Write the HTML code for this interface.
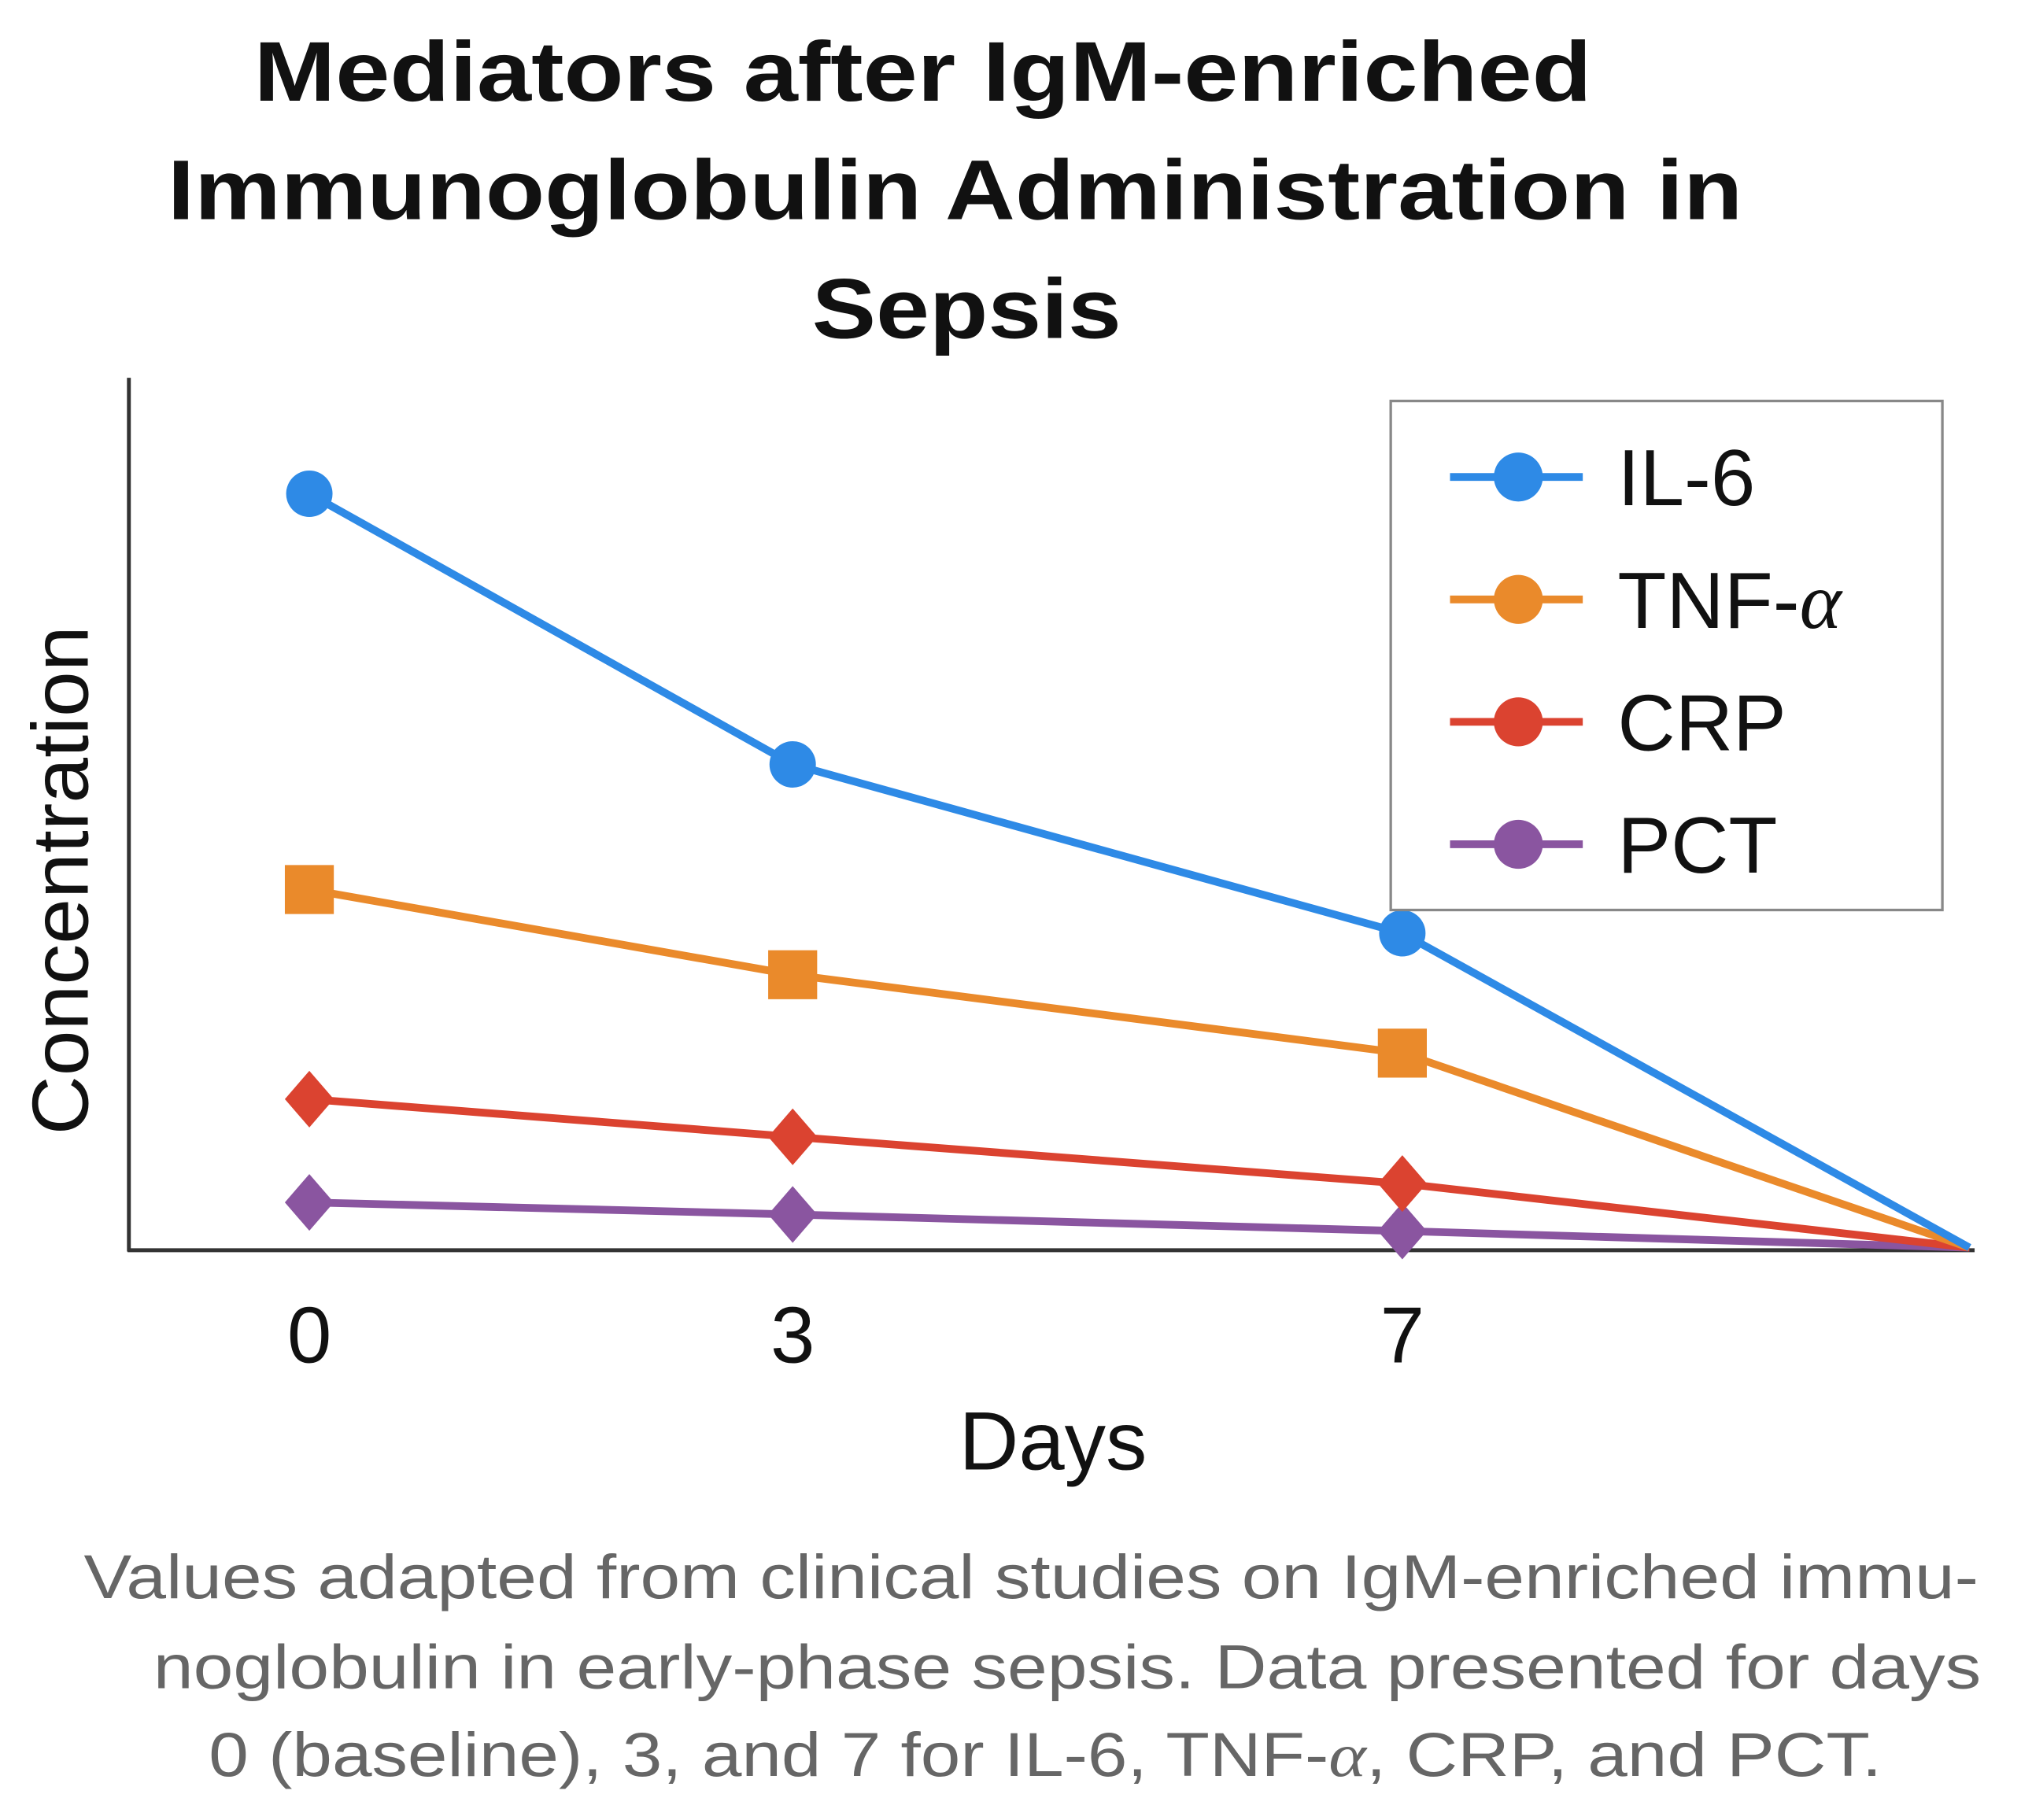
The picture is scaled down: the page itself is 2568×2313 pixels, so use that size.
<!DOCTYPE html>
<html><head><meta charset="utf-8"><style>html,body{margin:0;padding:0;background:#fff}svg{display:block}</style></head>
<body>
<svg id="chart" width="2568" height="2313" viewBox="0 0 1568 1412" xmlns="http://www.w3.org/2000/svg" font-family="Liberation Sans, sans-serif">
<rect width="1568" height="1412" fill="#fff"/>
<g font-weight="bold" font-size="66" text-anchor="middle" fill="#111">
<text x="716" y="78" textLength="1038" lengthAdjust="spacingAndGlyphs">Mediators after IgM-enriched</text>
<text x="741" y="170" textLength="1222" lengthAdjust="spacingAndGlyphs">Immunoglobulin Administration in</text>
<text x="750" y="262" textLength="240" lengthAdjust="spacingAndGlyphs">Sepsis</text>
</g>
<line x1="100" y1="293" x2="100" y2="971" stroke="#333" stroke-width="3"/>
<line x1="99" y1="970" x2="1532" y2="970" stroke="#333" stroke-width="3"/>
<text transform="translate(68,683) rotate(-90)" text-anchor="middle" font-size="62" fill="#111" textLength="395" lengthAdjust="spacingAndGlyphs">Concentration</text>
<text x="817" y="1140" text-anchor="middle" font-size="64" fill="#111">Days</text>
<g id="ticks" font-size="62" text-anchor="middle" fill="#111"></g>
<g id="series"></g>
<g>
<rect x="1079" y="311" width="428" height="395" fill="#fff" stroke="#888" stroke-width="2"/>
<g id="legend-items" font-size="62" fill="#111"></g>
</g>
<g font-size="48" fill="#666" text-anchor="middle">
<text x="800" y="1240" textLength="1470" lengthAdjust="spacingAndGlyphs">Values adapted from clinical studies on IgM-enriched immu-</text>
<text x="828" y="1310" textLength="1418" lengthAdjust="spacingAndGlyphs">noglobulin in early-phase sepsis. Data presented for days</text>
<text x="811" y="1378" textLength="1298" lengthAdjust="spacingAndGlyphs">0 (baseline), 3, and 7 for IL-6, TNF-<tspan font-family="Liberation Serif, serif" font-style="italic">α</tspan>, CRP, and PCT.</text>
</g>
</svg>
<script>
const days = [0, 3, 7, 10.6];
const tickDays = [0, 3, 7];
const tickLabels = ["0", "3", "7"];
const seriesNames = ["IL-6", "TNF-α", "CRP", "PCT"];
const il6 = [100, 64.1, 41.7, 0];
const tnf = [47.5, 36.2, 25.8, 0];
const crp = [19.7, 14.7, 8.5, 0];
const pct = [6.0, 4.4, 2.2, 0];
const colors = ["#2e8ae6", "#ea8a2b", "#db4330", "#8a55a0"];
const shapes = ["circle", "square", "diamond", "diamond"];
const allSeries = [il6, tnf, crp, pct];
const NS = "http://www.w3.org/2000/svg";
function xs(d){ const p=[240,615,1088]; const i=tickDays.indexOf(d); return i>=0? p[i] : 1088 + (d-7)*(440/3.6); }
function ys(v){ return 968 - v*5.85; }
function mk(tag, attrs, parent){ const e=document.createElementNS(NS,tag); for(const k in attrs) e.setAttribute(k,attrs[k]); parent.appendChild(e); return e; }
function marker(shape, x, y, color, parent, last){
  if(last) return null;
  let e;
  if(shape==="circle") e=mk("circle",{cx:x,cy:y,r:18,fill:color},parent);
  else if(shape==="square") e=mk("rect",{x:x-19,y:y-19,width:38,height:38,fill:color},parent);
  else e=mk("polygon",{points:`${x},${y-22} ${x+19},${y} ${x},${y+22} ${x-19},${y}`,fill:color},parent);
  return e;
}
const ticks=document.getElementById("ticks");
tickDays.forEach((d,i)=>{
  const t=mk("text",{x:xs(d),y:1057},ticks);
  t.textContent=tickLabels[i];
  
  
});
const sg=document.getElementById("series");
for(let s=allSeries.length-1;s>=0;s--){
  const vals=allSeries[s];
  const g=mk("g",{},sg);
  
  
  const pts=vals.map((v,i)=>xs(days[i])+","+ys(v)).join(" ");
  const pl=mk("polyline",{points:pts,fill:"none",stroke:colors[s],"stroke-width":6,"stroke-linejoin":"round"},g);
  
  
  vals.forEach((v,i)=>{
    const m=marker(shapes[s],xs(days[i]),ys(v),colors[s],g,i===vals.length-1);
    if(m){
      
      
    }
  });
}
const lg=document.getElementById("legend-items");
seriesNames.forEach((n,i)=>{
  const y=370+i*95;
  const g=mk("g",{},lg);
  
  
  mk("line",{x1:1125,y1:y,x2:1228,y2:y,stroke:colors[i],"stroke-width":6},g);
  mk("circle",{cx:1178,cy:y,r:19,fill:colors[i]},g);
  const t=mk("text",{x:1255,y:y+22},g);
  if(n==="TNF-α"){ t.textContent="TNF-"; const a=mk("tspan",{"font-family":"Liberation Serif, serif","font-style":"italic"},t); a.textContent="α"; }
  else t.textContent=n;
});
</script>
</body></html>
